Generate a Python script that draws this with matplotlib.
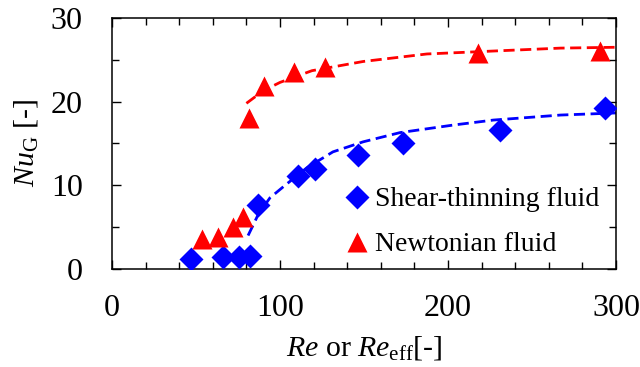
import matplotlib
matplotlib.use('Agg')
import matplotlib.pyplot as plt
from matplotlib.ticker import MultipleLocator

plt.rcParams['font.family'] = ['Liberation Serif', 'DejaVu Serif']
plt.rcParams['mathtext.fontset'] = 'custom'
plt.rcParams['mathtext.rm'] = 'Liberation Serif'
plt.rcParams['mathtext.it'] = 'Liberation Serif:italic'

# fluido pseudoplastico (shear-thinning)
re_shear = [47, 66, 75.7, 82, 87, 110.7, 121, 146.5, 173, 231, 293.5]
nu_shear = [1.2, 1.4, 1.4, 1.5, 7.6, 11.1, 12.0, 13.6, 15.0, 16.6, 19.2]

# fluido newtoniano
re_newt = [53.6, 63, 72, 78, 81.5, 90.5, 108.5, 127, 218, 290.5]
nu_newt = [3.6, 3.8, 5.0, 6.2, 18.0, 21.9, 23.6, 24.2, 25.8, 26.0]

# curvas de ajuste
fit_shear_x = [81, 87, 94, 103, 116, 131.5, 149.5, 171.4, 203, 227, 267, 300]
fit_shear_y = [4.0, 6.5, 8.5, 10.0, 12.1, 14.0, 15.2, 16.3, 17.2, 17.8, 18.4, 18.65]
fit_newt_x = [80, 90, 100, 119, 149.5, 187.5, 227, 267, 300]
fit_newt_y = [19.8, 21.3, 22.3, 23.7, 24.8, 25.7, 26.05, 26.4, 26.5]

fig = plt.figure(figsize=(6.4, 3.67), dpi=100)
ax = fig.add_axes([0.175, 0.267, 0.7875, 0.684])

ax.plot(fit_shear_x, fit_shear_y, color='#0000ff', lw=2.0, dashes=(4, 2), zorder=2)
ax.plot(fit_newt_x, fit_newt_y, color='#ff0000', lw=2.0, dashes=(4, 2), zorder=2)
ax.plot(re_shear, nu_shear, 'D', color='#0000ff', ms=12.5, mec='none',
        label='Shear-thinning fluid', zorder=3)
ax.plot(re_newt, nu_newt, '^', color='#ff0000', ms=15, mec='none',
        label='Newtonian fluid', zorder=3)

ax.set_xlim(0, 300)
ax.set_ylim(0, 30)
ax.xaxis.set_major_locator(MultipleLocator(100))
ax.xaxis.set_minor_locator(MultipleLocator(20))
ax.yaxis.set_major_locator(MultipleLocator(10))
ax.yaxis.set_minor_locator(MultipleLocator(5))
ax.tick_params(which='both', direction='in', top=True, right=True,
               labelsize=23, width=1)
ax.tick_params(which='major', length=6.5)
ax.tick_params(axis='x', which='major', pad=18)
ax.tick_params(axis='y', which='major', pad=21)
ax.tick_params(which='minor', length=5)
for s in ax.spines.values():
    s.set_linewidth(1.1)

ax.set_xlabel(r'$Re$ or $Re_{\mathrm{eff}}$[-]', fontsize=21.5, labelpad=8)
ax.set_ylabel(r'$Nu_{\mathrm{G}}$ [-]', fontsize=21.5, labelpad=8)

ax.legend(loc='lower right', frameon=False, fontsize=20, handletextpad=0.1,
          handlelength=1.1, borderaxespad=0.2, labelspacing=0.7,
          bbox_to_anchor=(1.0, -0.02))

fig.savefig('out.png', dpi=100)
